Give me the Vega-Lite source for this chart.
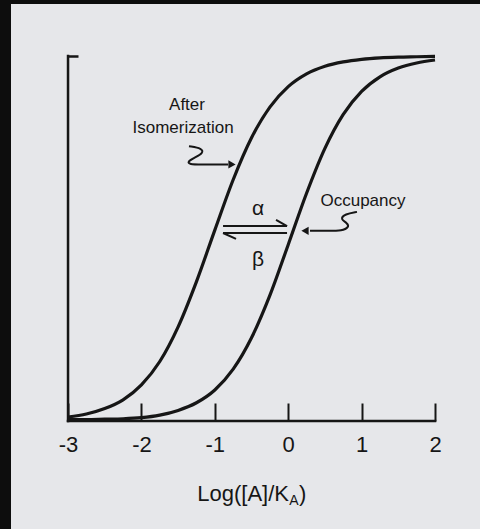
{
  "$schema": "https://vega.github.io/schema/vega-lite/v6.json",
  "width": 469,
  "height": 525,
  "autosize": {"type": "none"},
  "padding": {"left": 11, "top": 4, "right": 0, "bottom": 0},
  "background": "#0d0d0d",
  "config": {
    "view": {"fill": "#e6e7ea", "stroke": null},
    "font": "Liberation Sans",
    "text": {"font": "Liberation Sans"}
  },
  "datasets": {
    "curves": [
      {"series": "After Isomerization", "logA": -3, "frac": 0.011},
      {"series": "After Isomerization", "logA": -2.75, "frac": 0.019},
      {"series": "After Isomerization", "logA": -2.5, "frac": 0.034},
      {"series": "After Isomerization", "logA": -2.25, "frac": 0.058},
      {"series": "After Isomerization", "logA": -2, "frac": 0.099},
      {"series": "After Isomerization", "logA": -1.75, "frac": 0.163},
      {"series": "After Isomerization", "logA": -1.5, "frac": 0.258},
      {"series": "After Isomerization", "logA": -1.25, "frac": 0.382},
      {"series": "After Isomerization", "logA": -1, "frac": 0.523},
      {"series": "After Isomerization", "logA": -0.75, "frac": 0.661},
      {"series": "After Isomerization", "logA": -0.5, "frac": 0.776},
      {"series": "After Isomerization", "logA": -0.25, "frac": 0.86},
      {"series": "After Isomerization", "logA": 0, "frac": 0.916},
      {"series": "After Isomerization", "logA": 0.25, "frac": 0.951},
      {"series": "After Isomerization", "logA": 0.5, "frac": 0.972},
      {"series": "After Isomerization", "logA": 0.75, "frac": 0.984},
      {"series": "After Isomerization", "logA": 1, "frac": 0.991},
      {"series": "After Isomerization", "logA": 1.25, "frac": 0.995},
      {"series": "After Isomerization", "logA": 1.5, "frac": 0.997},
      {"series": "After Isomerization", "logA": 1.75, "frac": 0.998},
      {"series": "After Isomerization", "logA": 2, "frac": 0.999},
      {"series": "Occupancy", "logA": -3, "frac": 0.004},
      {"series": "Occupancy", "logA": -2.75, "frac": 0.004},
      {"series": "Occupancy", "logA": -2.5, "frac": 0.005},
      {"series": "Occupancy", "logA": -2.25, "frac": 0.006},
      {"series": "Occupancy", "logA": -2, "frac": 0.009},
      {"series": "Occupancy", "logA": -1.75, "frac": 0.016},
      {"series": "Occupancy", "logA": -1.5, "frac": 0.029},
      {"series": "Occupancy", "logA": -1.25, "frac": 0.05},
      {"series": "Occupancy", "logA": -1, "frac": 0.085},
      {"series": "Occupancy", "logA": -0.75, "frac": 0.142},
      {"series": "Occupancy", "logA": -0.5, "frac": 0.228},
      {"series": "Occupancy", "logA": -0.25, "frac": 0.344},
      {"series": "Occupancy", "logA": 0, "frac": 0.483},
      {"series": "Occupancy", "logA": 0.25, "frac": 0.624},
      {"series": "Occupancy", "logA": 0.5, "frac": 0.747},
      {"series": "Occupancy", "logA": 0.75, "frac": 0.84},
      {"series": "Occupancy", "logA": 1, "frac": 0.903},
      {"series": "Occupancy", "logA": 1.25, "frac": 0.943},
      {"series": "Occupancy", "logA": 1.5, "frac": 0.967},
      {"series": "Occupancy", "logA": 1.75, "frac": 0.981},
      {"series": "Occupancy", "logA": 2, "frac": 0.989}
    ],
    "frame": [
      {"x": -3, "x2": 2, "y": 0, "y2": 0},
      {"x": -3, "x2": -3, "y": 0, "y2": 1}
    ],
    "harpoons": [
      {"x": -0.888, "x2": -0.016, "y": 0.534, "y2": 0.534},
      {"x": -0.016, "x2": -0.166, "y": 0.534, "y2": 0.551},
      {"x": -0.888, "x2": -0.016, "y": 0.515, "y2": 0.515},
      {"x": -0.888, "x2": -0.711, "y": 0.515, "y2": 0.499}
    ],
    "squiggles": [
      {"id": "iso", "order": 1, "logA": -1.352, "frac": 0.753},
      {"id": "iso", "order": 2, "logA": -1.17, "frac": 0.747},
      {"id": "iso", "order": 3, "logA": -1.16, "frac": 0.734},
      {"id": "iso", "order": 4, "logA": -1.27, "frac": 0.722},
      {"id": "iso", "order": 5, "logA": -1.375, "frac": 0.711},
      {"id": "iso", "order": 6, "logA": -1.345, "frac": 0.703},
      {"id": "iso", "order": 7, "logA": -1.202, "frac": 0.703},
      {"id": "iso", "order": 8, "logA": -0.82, "frac": 0.703},
      {"id": "occ", "order": 1, "logA": 0.937, "frac": 0.573},
      {"id": "occ", "order": 2, "logA": 0.774, "frac": 0.567},
      {"id": "occ", "order": 3, "logA": 0.706, "frac": 0.553},
      {"id": "occ", "order": 4, "logA": 0.81, "frac": 0.542},
      {"id": "occ", "order": 5, "logA": 0.828, "frac": 0.531},
      {"id": "occ", "order": 6, "logA": 0.733, "frac": 0.521},
      {"id": "occ", "order": 7, "logA": 0.55, "frac": 0.521},
      {"id": "occ", "order": 8, "logA": 0.297, "frac": 0.521}
    ],
    "heads": [
      {"dir": "right", "logA": -0.766, "frac": 0.703},
      {"dir": "left", "logA": 0.229, "frac": 0.521}
    ],
    "notes": [
      {"text": "After", "logA": -1.379, "frac": 0.866},
      {"text": "Isomerization", "logA": -1.433, "frac": 0.803},
      {"text": "Occupancy", "logA": 1.019, "frac": 0.603}
    ],
    "rates": [
      {"text": "α", "logA": -0.411, "frac": 0.581},
      {"text": "β", "logA": -0.411, "frac": 0.44}
    ],
    "titleMain": [{"text": "Log([A]/K", "logA": 0.011, "frac": -0.219}],
    "titleSub": [{"text": "A", "logA": 0.015, "frac": -0.231}],
    "titleEnd": [{"text": ")", "logA": 0.146, "frac": -0.219}]
  },
  "layer": [
    {
      "data": {"name": "curves"},
      "mark": {"type": "line", "interpolate": "monotone", "color": "#161616", "strokeWidth": 3.2},
      "encoding": {
        "x": {
          "field": "logA", "type": "quantitative",
          "scale": {"domain": [-3.777, 2.613], "nice": false, "zero": false},
          "axis": {
            "orient": "bottom", "offset": -108, "values": [-3, -2, -1, 0, 1, 2],
            "domain": false, "grid": false, "tickSize": -18, "tickWidth": 2, "tickColor": "#161616",
            "labelExpr": "'' + datum.value", "labelFontSize": 22, "labelColor": "#161616",
            "labelFont": "Liberation Sans", "labelPadding": 31, "title": null
          }
        },
        "y": {
          "field": "frac", "type": "quantitative",
          "scale": {"domain": [-0.2959, 1.1425], "nice": false, "zero": false},
          "axis": {
            "orient": "left", "offset": -57, "values": [1], "domain": false, "grid": false,
            "tickSize": -10, "tickWidth": 2.5, "tickColor": "#161616", "labels": false, "title": null
          }
        },
        "detail": {"field": "series"}
      }
    },
    {
      "data": {"name": "frame"},
      "mark": {"type": "rule", "color": "#161616", "strokeWidth": 2.5, "strokeCap": "square"},
      "encoding": {
        "x": {"field": "x", "type": "quantitative"},
        "x2": {"field": "x2"},
        "y": {"field": "y", "type": "quantitative"},
        "y2": {"field": "y2"}
      }
    },
    {
      "data": {"name": "harpoons"},
      "mark": {"type": "rule", "color": "#161616", "strokeWidth": 2},
      "encoding": {
        "x": {"field": "x", "type": "quantitative"},
        "x2": {"field": "x2"},
        "y": {"field": "y", "type": "quantitative"},
        "y2": {"field": "y2"}
      }
    },
    {
      "data": {"name": "squiggles"},
      "mark": {"type": "line", "interpolate": "basis", "color": "#161616", "strokeWidth": 2},
      "encoding": {
        "x": {"field": "logA", "type": "quantitative"},
        "y": {"field": "frac", "type": "quantitative"},
        "detail": {"field": "id"},
        "order": {"field": "order"}
      }
    },
    {
      "data": {"name": "heads"},
      "mark": {"type": "point", "filled": true, "color": "#161616", "opacity": 1, "size": 70},
      "encoding": {
        "x": {"field": "logA", "type": "quantitative"},
        "y": {"field": "frac", "type": "quantitative"},
        "shape": {"field": "dir", "type": "nominal", "scale": {"domain": ["left", "right"], "range": ["triangle-left", "triangle-right"]}, "legend": null}
      }
    },
    {
      "data": {"name": "notes"},
      "mark": {"type": "text", "fontSize": 17, "color": "#161616", "baseline": "middle", "align": "center"},
      "encoding": {
        "x": {"field": "logA", "type": "quantitative"},
        "y": {"field": "frac", "type": "quantitative"},
        "text": {"field": "text"}
      }
    },
    {
      "data": {"name": "rates"},
      "mark": {"type": "text", "fontSize": 21, "color": "#161616", "baseline": "middle", "align": "center"},
      "encoding": {
        "x": {"field": "logA", "type": "quantitative"},
        "y": {"field": "frac", "type": "quantitative"},
        "text": {"field": "text"}
      }
    },
    {
      "data": {"name": "titleMain"},
      "mark": {"type": "text", "fontSize": 22, "color": "#161616", "baseline": "alphabetic", "align": "right"},
      "encoding": {
        "x": {"field": "logA", "type": "quantitative"},
        "y": {"field": "frac", "type": "quantitative"},
        "text": {"field": "text"}
      }
    },
    {
      "data": {"name": "titleSub"},
      "mark": {"type": "text", "fontSize": 14, "color": "#161616", "baseline": "alphabetic", "align": "left"},
      "encoding": {
        "x": {"field": "logA", "type": "quantitative"},
        "y": {"field": "frac", "type": "quantitative"},
        "text": {"field": "text"}
      }
    },
    {
      "data": {"name": "titleEnd"},
      "mark": {"type": "text", "fontSize": 22, "color": "#161616", "baseline": "alphabetic", "align": "left"},
      "encoding": {
        "x": {"field": "logA", "type": "quantitative"},
        "y": {"field": "frac", "type": "quantitative"},
        "text": {"field": "text"}
      }
    }
  ]
}
